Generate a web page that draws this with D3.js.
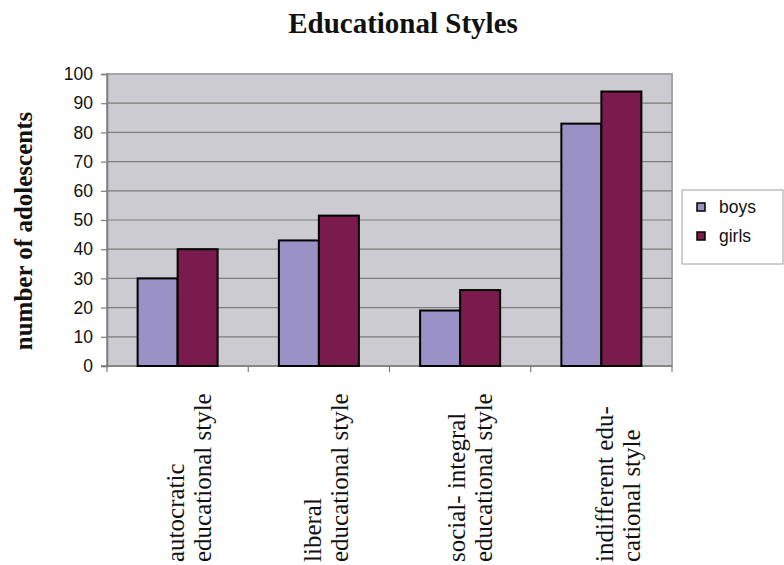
<!DOCTYPE html>
<html>
<head>
<meta charset="utf-8">
<script src="https://cdn.jsdelivr.net/npm/d3@7"></script>
<style>
body{margin:0;background:#fff}
svg{display:block}
</style>
</head>
<body>
<div id="chart"></div>
<script>
var categories = [
	["autocratic", "educational style"],
	["liberal", "educational style"],
	["social- integral", "educational style"],
	["indifferent edu-", "cational style"]
]
var seriesNames = ["boys", "girls"]
var boys = [30, 43, 19, 83]
var girls = [40, 51.5, 26, 94]
var yTicks = [0, 10, 20, 30, 40, 50, 60, 70, 80, 90, 100]
var colors = ["#9a91c6", "#7b1a4c"]

var W = 784, H = 565
var pL = 107, pR = 672, pT = 74, pB = 366

var svg = d3.select("#chart").append("svg").attr("width", W).attr("height", H)

var x = d3.scaleBand().domain(d3.range(categories.length)).range([pL, pR]).paddingInner(0).paddingOuter(0)
var x1 = d3.scaleBand().domain(seriesNames).range([0, 80])
var y = d3.scaleLinear().domain([0, 100]).range([pB, pT])

// plot background
svg.append("rect").attr("x", pL).attr("y", pT).attr("width", pR - pL).attr("height", pB - pT)
	.attr("fill", "#cccbd1").attr("stroke", "#a6a6a6").attr("stroke-width", 2)

// grid lines
svg.append("g").selectAll("line").data(yTicks.filter(function(d){return d > 0 && d < 100}))
	.enter().append("line")
	.attr("x1", pL).attr("x2", pR)
	.attr("y1", function(d){return y(d)}).attr("y2", function(d){return y(d)})
	.attr("stroke", "#7d7d7d").attr("stroke-width", 1.2)

// y axis
var yAxis = svg.append("g").attr("transform", "translate(" + pL + ",0)")
	.call(d3.axisLeft(y).tickValues(yTicks).tickSize(6).tickPadding(8))
yAxis.select(".domain").attr("stroke", "#7d7d7d").attr("stroke-width", 1.5)
yAxis.selectAll(".tick line").attr("stroke", "#7d7d7d").attr("stroke-width", 1.2)
yAxis.selectAll("text").attr("font-family", "Liberation Sans, Arial, sans-serif").attr("font-size", "17.5px").attr("fill", "#111")

// x axis line and ticks at category boundaries
var xg = svg.append("g")
xg.append("line").attr("x1", pL - 6).attr("x2", pR).attr("y1", pB).attr("y2", pB)
	.attr("stroke", "#7d7d7d").attr("stroke-width", 1.5)
xg.selectAll(".bt").data(d3.range(categories.length + 1)).enter().append("line")
	.attr("x1", function(i){return pL + i * x.bandwidth()})
	.attr("x2", function(i){return pL + i * x.bandwidth()})
	.attr("y1", pB).attr("y2", pB + 6)
	.attr("stroke", "#7d7d7d").attr("stroke-width", 1.2)

// bars
var groups = svg.append("g").selectAll("g").data(categories).enter().append("g")
	.attr("transform", function(d, i){return "translate(" + (x(i) + x.bandwidth() / 2 - 40) + ",0)"})

groups.selectAll("rect").data(function(d, i){return [boys[i], girls[i]]}).enter().append("rect")
	.attr("x", function(d, j){return x1(seriesNames[j])})
	.attr("width", x1.bandwidth())
	.attr("y", function(d){return y(d)})
	.attr("height", function(d){return pB - y(d)})
	.attr("fill", function(d, j){return colors[j]})
	.attr("stroke", "#000").attr("stroke-width", 2)

// category labels, rotated
var labOff = [6, 2, 5, 12]
categories.forEach(function(lines, i){
	lines.forEach(function(t, k){
		var cx = x(i) + x.bandwidth() / 2 + labOff[i] + k * 27
		svg.append("text").text(t)
			.attr("transform", "translate(" + cx + ",562) rotate(-90)")
			.attr("font-family", "Liberation Serif, Times New Roman, serif")
			.attr("font-size", "25px").attr("fill", "#111")
	})
})

// title
svg.append("text").text("Educational Styles")
	.attr("x", 403).attr("y", 33).attr("text-anchor", "middle")
	.attr("font-family", "Liberation Serif, Times New Roman, serif")
	.attr("font-weight", "bold").attr("font-size", "29px").attr("fill", "#111")

// y label
svg.append("text").text("number of adolescents")
	.attr("transform", "translate(32,231) rotate(-90)").attr("text-anchor", "middle")
	.attr("font-family", "Liberation Serif, Times New Roman, serif")
	.attr("font-weight", "bold").attr("font-size", "25px").attr("fill", "#111")

// legend
var lg = svg.append("g")
lg.append("rect").attr("x", 682).attr("y", 190).attr("width", 101).attr("height", 74)
	.attr("fill", "#fff").attr("stroke", "#a0a0a0").attr("stroke-width", 1)
seriesNames.forEach(function(n, j){
	lg.append("rect").attr("x", 697).attr("y", 203 + j * 29).attr("width", 8).attr("height", 8)
		.attr("fill", colors[j]).attr("stroke", "#000").attr("stroke-width", 1.5)
	lg.append("text").text(n).attr("x", 719).attr("y", 213 + j * 29)
		.attr("font-family", "Liberation Sans, Arial, sans-serif").attr("font-size", "17.5px").attr("fill", "#111")
})
</script>
</body>
</html>
